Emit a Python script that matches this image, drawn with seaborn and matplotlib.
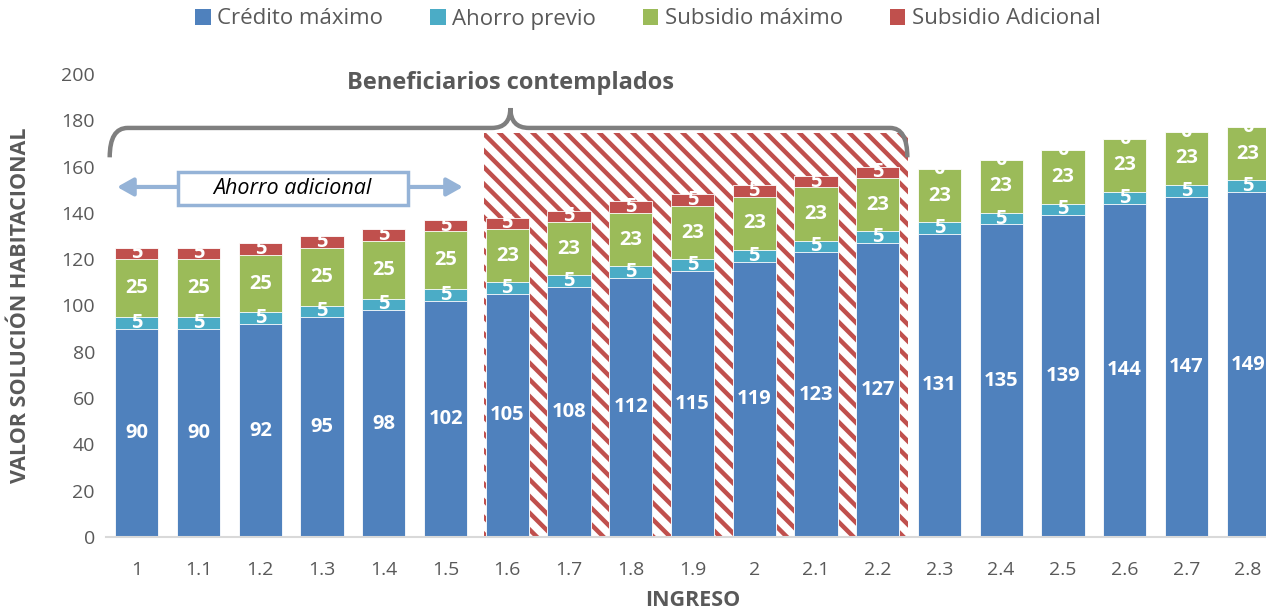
import numpy as np
import pandas as pd
import matplotlib
matplotlib.use("Agg")
import matplotlib.pyplot as plt
from matplotlib.patches import Rectangle, PathPatch, Patch
from matplotlib.path import Path
import seaborn as sns

# ---- data ----
ingreso = ["1", "1.1", "1.2", "1.3", "1.4", "1.5", "1.6", "1.7", "1.8", "1.9",
           "2", "2.1", "2.2", "2.3", "2.4", "2.5", "2.6", "2.7", "2.8"]
credito_maximo = [90, 90, 92, 95, 98, 102, 105, 108, 112, 115, 119, 123, 127,
                  131, 135, 139, 144, 147, 149]
ahorro_previo = [5] * 19
subsidio_maximo = [25, 25, 25, 25, 25, 25, 23, 23, 23, 23, 23, 23, 23,
                   23, 23, 23, 23, 23, 23]
subsidio_adicional = [5] * 13 + [0] * 6

series_names = ["Crédito máximo", "Ahorro previo", "Subsidio máximo", "Subsidio Adicional"]
series_values = [credito_maximo, ahorro_previo, subsidio_maximo, subsidio_adicional]
colors = ["#4f81bd", "#4bacc6", "#9bbb59", "#c0504d"]

sns.set_theme(style="white")
plt.rcParams["font.family"] = ["Open Sans", "DejaVu Sans"]
plt.rcParams["hatch.linewidth"] = 3.2

fig = plt.figure(figsize=(12.66, 6.16), dpi=100)
ax = fig.add_axes([106 / 1266, 1 - 537 / 616, (1279 - 106) / 1266, (537 - 74) / 616])

df = pd.DataFrame({"ingreso": ingreso})
vals = np.array(series_values, dtype=float)
cum = np.cumsum(vals, axis=0)

# highlighted band of beneficiaries
band = Rectangle((5.62, 0), 12.49 - 5.62, 174.5, facecolor="white",
                 edgecolor="#c0504d", hatch="\\\\", linewidth=0, zorder=0)
ax.add_patch(band)

# stacked bars: draw cumulative totals from the top layer down
for k in range(3, -1, -1):
    df["h"] = cum[k]
    sns.barplot(data=df, x="ingreso", y="h", order=ingreso, color=colors[k],
                saturation=1, width=0.7, edgecolor="white", linewidth=0.6,
                ax=ax, zorder=2)

# segment labels
for k in range(4):
    for i in range(len(ingreso)):
        base = cum[k][i] - vals[k][i]
        ax.text(i, base + vals[k][i] / 2, f"{int(vals[k][i])}", ha="center", va="center",
                color="white", fontsize=14.5, fontweight="bold", zorder=5)

ax.set_xlim(-0.5, 18.5)
ax.set_ylim(0, 200)
ax.set_yticks(range(0, 201, 20))
ax.tick_params(axis="both", labelsize=14, colors="#595959", length=0, pad=8)
ax.tick_params(axis="x", pad=17)
for s in ["top", "right", "left"]:
    ax.spines[s].set_visible(False)
ax.spines["bottom"].set_color("#d9d9d9")
ax.spines["bottom"].set_linewidth(1.5)
ax.set_xlabel("INGRESO", fontsize=15.5, fontweight="bold", color="#595959", labelpad=8)
ax.set_ylabel("VALOR SOLUCIÓN HABITACIONAL", fontsize=15.5, fontweight="bold",
              color="#595959", labelpad=22)

# brace over the beneficiaries
yb, ye, yp = 176.7, 164.0, 185.3
verts = [(-0.44, ye), (-0.44, yb), (-0.15, yb),
         (5.75, yb), (6.05, yb), (6.05, yp),
         (6.05, yb), (6.35, yb),
         (12.2, yb), (12.48, yb), (12.48, ye)]
codes = [Path.MOVETO, Path.CURVE3, Path.CURVE3,
         Path.LINETO, Path.CURVE3, Path.CURVE3,
         Path.CURVE3, Path.CURVE3,
         Path.LINETO, Path.CURVE3, Path.CURVE3]
ax.add_patch(PathPatch(Path(verts, codes), facecolor="none", edgecolor="#7f7f7f",
                       linewidth=3.2, capstyle="butt", zorder=6))
ax.text(6.05, 196.0, "Beneficiarios contemplados", ha="center", va="center",
        fontsize=17, fontweight="bold", color="#595959")

# additional savings arrow
arrow_c = "#95b3d7"
ax.annotate("", xy=(-0.32, 151.2), xytext=(5.28, 151.2),
            arrowprops=dict(arrowstyle="<|-|>,head_length=0.8,head_width=0.45",
                            color=arrow_c, lw=3, shrinkA=0, shrinkB=0), zorder=6)
ax.add_patch(Rectangle((0.66, 143.6), 4.39 - 0.66, 14.0, facecolor="white",
                       edgecolor=arrow_c, linewidth=2.5, zorder=7))
ax.text(2.525, 150.6, "Ahorro adicional", ha="center", va="center", fontsize=15.5,
        style="italic", color="black", zorder=8)

handles = [Patch(facecolor=c, edgecolor="none") for c in colors]
fig.legend(handles, series_names, loc="center", bbox_to_anchor=(648 / 1266, 1 - 19 / 616),
           ncol=4, frameon=False, fontsize=16, handlelength=0.7, handleheight=0.7,
           handletextpad=0.3, columnspacing=2.1, labelcolor="#595959")

fig.savefig("out.png", dpi=100)
